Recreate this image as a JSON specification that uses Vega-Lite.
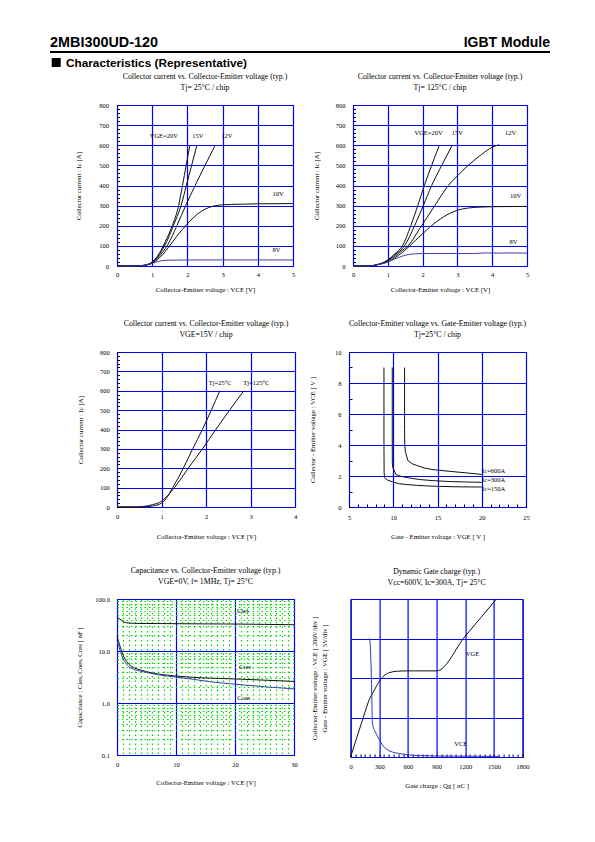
{
  "$schema": "https://vega.github.io/schema/vega-lite/v6.json",
  "background": "white",
  "padding": {"left": 49, "top": 34.5, "right": 5, "bottom": 5},
  "spacing": 1.5,
  "config": {
    "font": "Liberation Serif",
    "view": {"stroke": "#000", "strokeWidth": 1},
    "axis": {
      "labelFont": "Liberation Serif", "titleFont": "Liberation Serif",
      "labelFontSize": 6.5, "titleFontSize": 6.8, "titleFontWeight": "normal",
      "labelColor": "#000", "titleColor": "#000",
      "gridColor": "#0000ff", "gridWidth": 1.2, "gridOpacity": 1,
      "domain": false, "tickColor": "#000", "tickWidth": 1, "tickSize": 0,
      "labelOverlap": false, "labelFlush": false, "labelBound": false
    },
    "title": {"font": "Liberation Serif", "fontSize": 7.8, "fontWeight": "normal", "color": "#000", "lineHeight": 11.5, "offset": 10, "frame": "group", "anchor": "middle"},
    "text": {"font": "Liberation Serif", "fontSize": 6.5, "color": "#000"},
    "line": {"strokeWidth": 1}
  },
  "datasets": {
    "p1": [
      {"vge":"20V","vce":0,"ic":0},{"vge":"20V","vce":0.5,"ic":0},{"vge":"20V","vce":0.7,"ic":2},{"vge":"20V","vce":0.9,"ic":10},{"vge":"20V","vce":1.0,"ic":20},{"vge":"20V","vce":1.1,"ic":38},{"vge":"20V","vce":1.2,"ic":62},{"vge":"20V","vce":1.3,"ic":95},{"vge":"20V","vce":1.45,"ic":150},{"vge":"20V","vce":1.57,"ic":200},{"vge":"20V","vce":1.75,"ic":300},{"vge":"20V","vce":1.86,"ic":400},{"vge":"20V","vce":1.965,"ic":500},{"vge":"20V","vce":2.07,"ic":600},
      {"vge":"15V","vce":0,"ic":0},{"vge":"15V","vce":0.5,"ic":0},{"vge":"15V","vce":0.7,"ic":2},{"vge":"15V","vce":0.9,"ic":9},{"vge":"15V","vce":1.0,"ic":18},{"vge":"15V","vce":1.1,"ic":34},{"vge":"15V","vce":1.2,"ic":56},{"vge":"15V","vce":1.3,"ic":85},{"vge":"15V","vce":1.45,"ic":135},{"vge":"15V","vce":1.6,"ic":200},{"vge":"15V","vce":1.82,"ic":300},{"vge":"15V","vce":1.97,"ic":400},{"vge":"15V","vce":2.12,"ic":500},{"vge":"15V","vce":2.27,"ic":600},
      {"vge":"12V","vce":0,"ic":0},{"vge":"12V","vce":0.5,"ic":0},{"vge":"12V","vce":0.7,"ic":2},{"vge":"12V","vce":0.9,"ic":8},{"vge":"12V","vce":1.0,"ic":16},{"vge":"12V","vce":1.1,"ic":30},{"vge":"12V","vce":1.2,"ic":48},{"vge":"12V","vce":1.3,"ic":70},{"vge":"12V","vce":1.45,"ic":108},{"vge":"12V","vce":1.7,"ic":200},{"vge":"12V","vce":1.95,"ic":300},{"vge":"12V","vce":2.22,"ic":400},{"vge":"12V","vce":2.5,"ic":500},{"vge":"12V","vce":2.79,"ic":600},
      {"vge":"10V","vce":0,"ic":0},{"vge":"10V","vce":0.5,"ic":0},{"vge":"10V","vce":0.7,"ic":2},{"vge":"10V","vce":0.9,"ic":7},{"vge":"10V","vce":1.0,"ic":14},{"vge":"10V","vce":1.1,"ic":25},{"vge":"10V","vce":1.2,"ic":40},{"vge":"10V","vce":1.3,"ic":57},{"vge":"10V","vce":1.45,"ic":90},{"vge":"10V","vce":1.7,"ic":148},{"vge":"10V","vce":1.95,"ic":200},{"vge":"10V","vce":2.2,"ic":245},{"vge":"10V","vce":2.4,"ic":272},{"vge":"10V","vce":2.6,"ic":290},{"vge":"10V","vce":2.8,"ic":300},{"vge":"10V","vce":3.0,"ic":304},{"vge":"10V","vce":3.5,"ic":307},{"vge":"10V","vce":4.0,"ic":309},{"vge":"10V","vce":5.0,"ic":310},
      {"vge":"8V","vce":0,"ic":0},{"vge":"8V","vce":0.5,"ic":0},{"vge":"8V","vce":0.7,"ic":2},{"vge":"8V","vce":0.9,"ic":8},{"vge":"8V","vce":1.0,"ic":13},{"vge":"8V","vce":1.1,"ic":19},{"vge":"8V","vce":1.2,"ic":24},{"vge":"8V","vce":1.3,"ic":27},{"vge":"8V","vce":1.5,"ic":29},{"vge":"8V","vce":2.0,"ic":30},{"vge":"8V","vce":3.0,"ic":30},{"vge":"8V","vce":4.0,"ic":30},{"vge":"8V","vce":5.0,"ic":30}
    ],
    "p1lab": [
      {"t":"VGE=20V","vce":1.33,"ic":646},{"t":"15V","vce":2.3,"ic":646},{"t":"12V","vce":3.12,"ic":646},{"t":"10V","vce":4.58,"ic":358},{"t":"8V","vce":4.53,"ic":79}
    ],
    "p2": [
      {"vge":"20V","vce":0,"ic":0},{"vge":"20V","vce":0.4,"ic":0},{"vge":"20V","vce":0.6,"ic":3},{"vge":"20V","vce":0.8,"ic":12},{"vge":"20V","vce":1.0,"ic":30},{"vge":"20V","vce":1.2,"ic":60},{"vge":"20V","vce":1.42,"ic":100},{"vge":"20V","vce":1.66,"ic":200},{"vge":"20V","vce":1.86,"ic":300},{"vge":"20V","vce":2.05,"ic":400},{"vge":"20V","vce":2.26,"ic":500},{"vge":"20V","vce":2.48,"ic":600},
      {"vge":"15V","vce":0,"ic":0},{"vge":"15V","vce":0.4,"ic":0},{"vge":"15V","vce":0.6,"ic":3},{"vge":"15V","vce":0.8,"ic":12},{"vge":"15V","vce":1.0,"ic":28},{"vge":"15V","vce":1.2,"ic":55},{"vge":"15V","vce":1.48,"ic":100},{"vge":"15V","vce":1.77,"ic":200},{"vge":"15V","vce":2.02,"ic":300},{"vge":"15V","vce":2.26,"ic":400},{"vge":"15V","vce":2.55,"ic":500},{"vge":"15V","vce":2.85,"ic":600},
      {"vge":"12V","vce":0,"ic":0},{"vge":"12V","vce":0.4,"ic":0},{"vge":"12V","vce":0.6,"ic":3},{"vge":"12V","vce":0.8,"ic":11},{"vge":"12V","vce":1.0,"ic":25},{"vge":"12V","vce":1.2,"ic":48},{"vge":"12V","vce":1.4,"ic":75},{"vge":"12V","vce":1.58,"ic":100},{"vge":"12V","vce":1.97,"ic":200},{"vge":"12V","vce":2.35,"ic":300},{"vge":"12V","vce":2.74,"ic":400},{"vge":"12V","vce":3.0,"ic":448},{"vge":"12V","vce":3.31,"ic":500},{"vge":"12V","vce":3.7,"ic":555},{"vge":"12V","vce":4.0,"ic":590},{"vge":"12V","vce":4.2,"ic":603},
      {"vge":"10V","vce":0,"ic":0},{"vge":"10V","vce":0.4,"ic":0},{"vge":"10V","vce":0.6,"ic":3},{"vge":"10V","vce":0.8,"ic":10},{"vge":"10V","vce":1.0,"ic":20},{"vge":"10V","vce":1.2,"ic":40},{"vge":"10V","vce":1.4,"ic":65},{"vge":"10V","vce":1.6,"ic":95},{"vge":"10V","vce":1.8,"ic":128},{"vge":"10V","vce":2.0,"ic":160},{"vge":"10V","vce":2.2,"ic":192},{"vge":"10V","vce":2.4,"ic":220},{"vge":"10V","vce":2.6,"ic":244},{"vge":"10V","vce":2.8,"ic":263},{"vge":"10V","vce":3.0,"ic":277},{"vge":"10V","vce":3.3,"ic":288},{"vge":"10V","vce":3.7,"ic":293},{"vge":"10V","vce":4.2,"ic":295},{"vge":"10V","vce":5.0,"ic":296},
      {"vge":"8V","vce":0,"ic":0},{"vge":"8V","vce":0.4,"ic":0},{"vge":"8V","vce":0.6,"ic":3},{"vge":"8V","vce":0.8,"ic":10},{"vge":"8V","vce":1.0,"ic":20},{"vge":"8V","vce":1.2,"ic":35},{"vge":"8V","vce":1.4,"ic":48},{"vge":"8V","vce":1.6,"ic":57},{"vge":"8V","vce":1.8,"ic":61},{"vge":"8V","vce":2.0,"ic":62},{"vge":"8V","vce":2.5,"ic":62},{"vge":"8V","vce":3.0,"ic":62},{"vge":"8V","vce":3.5,"ic":62},{"vge":"8V","vce":3.8,"ic":65},{"vge":"8V","vce":4.2,"ic":64},{"vge":"8V","vce":4.5,"ic":65},{"vge":"8V","vce":5.0,"ic":64}
    ],
    "p2lab": [
      {"t":"VGE=20V","vce":2.17,"ic":661},{"t":"15V","vce":3.0,"ic":661},{"t":"12V","vce":4.53,"ic":661},{"t":"10V","vce":4.67,"ic":348},{"t":"8V","vce":4.61,"ic":120}
    ],
    "p3": [
      {"tj":"Tj=25°C","vce":0,"ic":0},{"tj":"Tj=25°C","vce":0.45,"ic":0},{"tj":"Tj=25°C","vce":0.6,"ic":1},{"tj":"Tj=25°C","vce":0.8,"ic":5},{"tj":"Tj=25°C","vce":0.9,"ic":10},{"tj":"Tj=25°C","vce":1.0,"ic":20},{"tj":"Tj=25°C","vce":1.1,"ic":42},{"tj":"Tj=25°C","vce":1.25,"ic":100},{"tj":"Tj=25°C","vce":1.4,"ic":160},{"tj":"Tj=25°C","vce":1.49,"ic":200},{"tj":"Tj=25°C","vce":1.7,"ic":300},{"tj":"Tj=25°C","vce":1.92,"ic":400},{"tj":"Tj=25°C","vce":2.12,"ic":500},{"tj":"Tj=25°C","vce":2.31,"ic":600},
      {"tj":"Tj=125°C","vce":0,"ic":0},{"tj":"Tj=125°C","vce":0.4,"ic":0},{"tj":"Tj=125°C","vce":0.6,"ic":3},{"tj":"Tj=125°C","vce":0.8,"ic":12},{"tj":"Tj=125°C","vce":1.0,"ic":30},{"tj":"Tj=125°C","vce":1.1,"ic":50},{"tj":"Tj=125°C","vce":1.29,"ic":100},{"tj":"Tj=125°C","vce":1.45,"ic":150},{"tj":"Tj=125°C","vce":1.6,"ic":200},{"tj":"Tj=125°C","vce":1.92,"ic":300},{"tj":"Tj=125°C","vce":2.22,"ic":400},{"tj":"Tj=125°C","vce":2.53,"ic":500},{"tj":"Tj=125°C","vce":2.85,"ic":600}
    ],
    "p3lab": [
      {"t":"Tj=25°C","vce":2.32,"ic":641},{"t":"Tj=125°C","vce":3.13,"ic":641}
    ],
    "p4": [
      {"ic":"600A","vge":11.28,"vce":9},{"ic":"600A","vge":11.28,"vce":5},{"ic":"600A","vge":11.3,"vce":4},{"ic":"600A","vge":11.36,"vce":3.6},{"ic":"600A","vge":11.65,"vce":3.0},{"ic":"600A","vge":12.1,"vce":2.8},{"ic":"600A","vge":12.6,"vce":2.69},{"ic":"600A","vge":13.5,"vce":2.52},{"ic":"600A","vge":14.5,"vce":2.41},{"ic":"600A","vge":16.4,"vce":2.3},{"ic":"600A","vge":18.3,"vce":2.2},{"ic":"600A","vge":20,"vce":2.1},
      {"ic":"300A","vge":9.89,"vce":9},{"ic":"300A","vge":9.89,"vce":4},{"ic":"300A","vge":9.9,"vce":2.8},{"ic":"300A","vge":9.95,"vce":2.55},{"ic":"300A","vge":10.3,"vce":2.1},{"ic":"300A","vge":10.9,"vce":1.97},{"ic":"300A","vge":11.84,"vce":1.87},{"ic":"300A","vge":13.0,"vce":1.77},{"ic":"300A","vge":14.5,"vce":1.7},{"ic":"300A","vge":16.5,"vce":1.64},{"ic":"300A","vge":18.5,"vce":1.61},{"ic":"300A","vge":20,"vce":1.59},
      {"ic":"150A","vge":8.95,"vce":9},{"ic":"150A","vge":8.95,"vce":4},{"ic":"150A","vge":8.97,"vce":2.2},{"ic":"150A","vge":9.02,"vce":1.9},{"ic":"150A","vge":9.3,"vce":1.75},{"ic":"150A","vge":10.0,"vce":1.6},{"ic":"150A","vge":10.7,"vce":1.5},{"ic":"150A","vge":11.5,"vce":1.45},{"ic":"150A","vge":12.6,"vce":1.4},{"ic":"150A","vge":13.8,"vce":1.36},{"ic":"150A","vge":15.2,"vce":1.33},{"ic":"150A","vge":17.5,"vce":1.3},{"ic":"150A","vge":20,"vce":1.29}
    ],
    "p4lab": [
      {"t":"Ic=600A","vge":20.04,"vce":2.34},{"t":"Ic=300A","vge":20.04,"vce":1.73},{"t":"Ic=150A","vge":20.04,"vce":1.13}
    ],
    "p5": [
      {"c":"Cies","vce":0,"cap":44},{"c":"Cies","vce":0.5,"cap":41},{"c":"Cies","vce":1.0,"cap":37},{"c":"Cies","vce":1.5,"cap":35},{"c":"Cies","vce":2,"cap":34.5},{"c":"Cies","vce":3,"cap":34},{"c":"Cies","vce":5,"cap":33.8},{"c":"Cies","vce":10,"cap":33.5},{"c":"Cies","vce":15,"cap":33.2},{"c":"Cies","vce":20,"cap":33},{"c":"Cies","vce":25,"cap":32.5},{"c":"Cies","vce":30,"cap":32},
      {"c":"Cres","vce":0,"cap":19},{"c":"Cres","vce":0.3,"cap":15},{"c":"Cres","vce":0.6,"cap":11.5},{"c":"Cres","vce":1.0,"cap":8.5},{"c":"Cres","vce":1.5,"cap":6.6},{"c":"Cres","vce":2,"cap":5.6},{"c":"Cres","vce":3,"cap":4.7},{"c":"Cres","vce":4,"cap":4.3},{"c":"Cres","vce":5,"cap":4.0},{"c":"Cres","vce":7,"cap":3.6},{"c":"Cres","vce":10,"cap":3.3},{"c":"Cres","vce":13,"cap":3.1},{"c":"Cres","vce":16,"cap":3.0},{"c":"Cres","vce":20,"cap":2.9},{"c":"Cres","vce":25,"cap":2.75},{"c":"Cres","vce":30,"cap":2.6},
      {"c":"Coes","vce":0,"cap":16},{"c":"Coes","vce":0.3,"cap":12.5},{"c":"Coes","vce":0.6,"cap":9.5},{"c":"Coes","vce":1.0,"cap":7.2},{"c":"Coes","vce":1.5,"cap":5.8},{"c":"Coes","vce":2,"cap":5.0},{"c":"Coes","vce":3,"cap":4.4},{"c":"Coes","vce":4,"cap":4.1},{"c":"Coes","vce":5,"cap":3.85},{"c":"Coes","vce":7,"cap":3.5},{"c":"Coes","vce":10,"cap":3.15},{"c":"Coes","vce":13,"cap":2.85},{"c":"Coes","vce":16,"cap":2.55},{"c":"Coes","vce":20,"cap":2.3},{"c":"Coes","vce":25,"cap":2.05},{"c":"Coes","vce":30,"cap":1.87}
    ],
    "p5lab": [
      {"t":"Cies","vce":21.3,"cap":59.6},{"t":"Cres","vce":21.7,"cap":4.86},{"t":"Coes","vce":21.5,"cap":1.23}
    ],
    "p6vge": [
      {"qg":0,"vge":0},{"qg":133,"vge":5},{"qg":200,"vge":7.4},{"qg":237,"vge":8.2},{"qg":272,"vge":9.0},{"qg":314,"vge":9.8},{"qg":360,"vge":10.4},{"qg":412,"vge":10.7},{"qg":480,"vge":10.85},{"qg":600,"vge":10.9},{"qg":900,"vge":10.9},{"qg":1200,"vge":15.3},{"qg":1527,"vge":20}
    ],
    "p6vce": [
      {"qg":195,"vce":600},{"qg":205,"vce":575},{"qg":210,"vce":520},{"qg":216,"vce":430},{"qg":220,"vce":350},{"qg":224,"vce":260},{"qg":227,"vce":185},{"qg":235,"vce":155},{"qg":255,"vce":131},{"qg":290,"vce":97},{"qg":342,"vce":56},{"qg":412,"vce":30},{"qg":516,"vce":17},{"qg":621,"vce":10},{"qg":750,"vce":7},{"qg":900,"vce":5},{"qg":1200,"vce":4},{"qg":1553,"vce":3}
    ]
  },
  "vconcat": [
    {
      "width": 433, "height": 30,
      "view": {"stroke": null},
      "layer": [
        {"data": {"values": [{"t": "2MBI300UD-120"}]},
         "mark": {"type": "text", "align": "left", "baseline": "alphabetic", "font": "Liberation Sans", "fontSize": 14.4, "fontWeight": "bold", "color": "#000"},
         "encoding": {"x": {"datum": -0.1547, "type": "quantitative", "scale": {"domain": [0, 1]}, "axis": null},
                      "y": {"datum": 0.69, "type": "quantitative", "scale": {"domain": [0, 1]}, "axis": null},
                      "text": {"field": "t", "type": "nominal"}}},
        {"data": {"values": [{"t": "IGBT Module"}]},
         "mark": {"type": "text", "align": "right", "baseline": "alphabetic", "font": "Liberation Sans", "fontSize": 14, "fontWeight": "bold", "color": "#000"},
         "encoding": {"x": {"datum": 1, "type": "quantitative", "scale": {"domain": [0, 1]}, "axis": null},
                      "y": {"datum": 0.69, "type": "quantitative", "scale": {"domain": [0, 1]}, "axis": null},
                      "text": {"field": "t", "type": "nominal"}}},
        {"data": {"values": [{"t": "rule"}]},
         "mark": {"type": "rule", "strokeWidth": 2, "color": "#000"},
         "encoding": {"x": {"datum": -0.1547, "type": "quantitative", "scale": {"domain": [0, 1]}, "axis": null},
                      "x2": {"datum": 1},
                      "y": {"datum": 0.517, "type": "quantitative", "scale": {"domain": [0, 1]}, "axis": null}}},
        {"data": {"values": [{"t": "square"}]},
         "mark": {"type": "point", "shape": "square", "filled": true, "size": 81, "color": "#000", "opacity": 1},
         "encoding": {"x": {"datum": -0.1404, "type": "quantitative", "scale": {"domain": [0, 1]}, "axis": null},
                      "y": {"datum": 0.167, "type": "quantitative", "scale": {"domain": [0, 1]}, "axis": null}}},
        {"data": {"values": [{"t": "Characteristics (Representative)"}]},
         "mark": {"type": "text", "align": "left", "baseline": "alphabetic", "font": "Liberation Sans", "fontSize": 11.8, "fontWeight": "bold", "color": "#000"},
         "encoding": {"x": {"datum": -0.1178, "type": "quantitative", "scale": {"domain": [0, 1]}, "axis": null},
                      "y": {"datum": 0.02, "type": "quantitative", "scale": {"domain": [0, 1]}, "axis": null},
                      "text": {"field": "t", "type": "nominal"}}}
      ]
    },
    {
      "spacing": 25,
      "vconcat": [
        {
          "spacing": 17,
          "hconcat": [
            {
              "width": 176, "height": 161,
              "title": {"text": ["Collector current vs. Collector-Emitter voltage (typ.)", "Tj= 25°C / chip"]},
              "encoding": {
                "x": {"field": "vce", "type": "quantitative", "scale": {"domain": [0, 5], "nice": false},
                      "axis": {"title": "Collector-Emitter voltage : VCE [V]", "values": [0, 1, 2, 3, 4, 5], "format": "d", "tickSize": 0, "labelPadding": 5.7, "minExtent": 12, "maxExtent": 12, "titlePadding": 8.6}},
                "y": {"field": "ic", "type": "quantitative", "scale": {"domain": [0, 800], "nice": false},
                      "axis": {"title": "Collector current : Ic [A]", "values": [0,20,40,60,80,100,120,140,160,180,200,220,240,260,280,300,320,340,360,380,400,420,440,460,480,500,520,540,560,580,600,620,640,660,680,700,720,740,760,780,800],
                               "labelExpr": "datum.value % 100 === 0 ? datum.label : ''",
                               "gridOpacity": {"condition": {"test": "datum.value % 100 === 0", "value": 1}, "value": 0},
                               "tickSize": -2.5, "labelPadding": 11, "minExtent": 26, "maxExtent": 26, "titlePadding": 9.1}}
              },
              "layer": [
                {"data": {"name": "p1"}, "mark": {"type": "line", "interpolate": "monotone", "strokeWidth": 1},
                 "encoding": {"color": {"field": "vge", "type": "nominal", "scale": {"domain": ["20V", "15V", "12V", "10V", "8V"], "range": ["#111111", "#111111", "#111111", "#111111", "#3c3cb4"]}, "legend": null}}},
                {"data": {"name": "p1lab"}, "mark": {"type": "text", "align": "center", "baseline": "middle"},
                 "encoding": {"text": {"field": "t", "type": "nominal"}}}
              ]
            },
            {
              "width": 174, "height": 161,
              "title": {"text": ["Collector current vs. Collector-Emitter voltage (typ.)", "Tj= 125°C / chip"]},
              "encoding": {
                "x": {"field": "vce", "type": "quantitative", "scale": {"domain": [0, 5], "nice": false},
                      "axis": {"title": "Collector-Emitter voltage : VCE [V]", "values": [0, 1, 2, 3, 4, 5], "format": "d", "tickSize": 0, "labelPadding": 5.7, "minExtent": 12, "maxExtent": 12, "titlePadding": 8.3}},
                "y": {"field": "ic", "type": "quantitative", "scale": {"domain": [0, 800], "nice": false},
                      "axis": {"title": "Collector current : Ic [A]", "values": [0,20,40,60,80,100,120,140,160,180,200,220,240,260,280,300,320,340,360,380,400,420,440,460,480,500,520,540,560,580,600,620,640,660,680,700,720,740,760,780,800],
                               "labelExpr": "datum.value % 100 === 0 ? datum.label : ''",
                               "gridOpacity": {"condition": {"test": "datum.value % 100 === 0", "value": 1}, "value": 0},
                               "tickSize": -2.5, "labelPadding": 10.5, "minExtent": 26, "maxExtent": 26, "titlePadding": 7.3}}
              },
              "layer": [
                {"data": {"name": "p2"}, "mark": {"type": "line", "interpolate": "monotone", "strokeWidth": 1},
                 "encoding": {"color": {"field": "vge", "type": "nominal", "scale": {"domain": ["20V", "15V", "12V", "10V", "8V"], "range": ["#111111", "#111111", "#111111", "#111111", "#3c3cb4"]}, "legend": null}}},
                {"data": {"name": "p2lab"}, "mark": {"type": "text", "align": "center", "baseline": "middle"},
                 "encoding": {"text": {"field": "t", "type": "nominal"}}}
              ]
            }
          ]
        },
        {
          "spacing": 11,
          "hconcat": [
            {
              "width": 178, "height": 155,
              "title": {"text": ["Collector current vs. Collector-Emitter voltage (typ.)", "VGE=15V / chip"]},
              "encoding": {
                "x": {"field": "vce", "type": "quantitative", "scale": {"domain": [0, 4], "nice": false},
                      "axis": {"title": "Collector-Emitter voltage : VCE [V]", "values": [0, 1, 2, 3, 4], "format": "d", "tickSize": 0, "labelPadding": 6.3, "minExtent": 12, "maxExtent": 12, "titlePadding": 14}},
                "y": {"field": "ic", "type": "quantitative", "scale": {"domain": [0, 800], "nice": false},
                      "axis": {"title": "Collector current : Ic [A]", "values": [0,20,40,60,80,100,120,140,160,180,200,220,240,260,280,300,320,340,360,380,400,420,440,460,480,500,520,540,560,580,600,620,640,660,680,700,720,740,760,780,800],
                               "labelExpr": "datum.value % 100 === 0 ? datum.label : ''",
                               "gridOpacity": {"condition": {"test": "datum.value % 100 === 0", "value": 1}, "value": 0},
                               "tickSize": -2.5, "labelPadding": 10.2, "minExtent": 26, "maxExtent": 26, "titlePadding": 7.7}}
              },
              "layer": [
                {"data": {"name": "p3"}, "mark": {"type": "line", "interpolate": "monotone", "strokeWidth": 1},
                 "encoding": {"color": {"field": "tj", "type": "nominal", "scale": {"domain": ["Tj=25°C", "Tj=125°C"], "range": ["#111111", "#111111"]}, "legend": null}}},
                {"data": {"name": "p3lab"}, "mark": {"type": "text", "align": "center", "baseline": "middle"},
                 "encoding": {"text": {"field": "t", "type": "nominal"}}}
              ]
            },
            {
              "width": 177, "height": 155,
              "title": {"text": ["Collector-Emitter voltage  vs. Gate-Emitter voltage (typ.)", "Tj=25°C / chip"]},
              "encoding": {
                "x": {"field": "vge", "type": "quantitative", "scale": {"domain": [5, 25], "nice": false},
                      "axis": {"title": "Gate - Emitter voltage  :  VGE  [ V ]", "values": [5,6,7,8,9,10,11,12,13,14,15,16,17,18,19,20,21,22,23,24,25], "format": "d",
                               "labelExpr": "datum.value % 5 === 0 ? datum.label : ''",
                               "gridOpacity": {"condition": {"test": "datum.value % 5 === 0", "value": 1}, "value": 0},
                               "tickSize": -3, "labelPadding": 10, "minExtent": 12, "maxExtent": 12, "titlePadding": 14}},
                "y": {"field": "vce", "type": "quantitative", "scale": {"domain": [0, 10], "nice": false},
                      "axis": {"title": "Collector - Emitter voltage  :  VCE  [ V ]", "values": [0,0.5,1,1.5,2,2.5,3,3.5,4,4.5,5,5.5,6,6.5,7,7.5,8,8.5,9,9.5,10], "format": "d",
                               "labelExpr": "datum.value % 2 === 0 ? datum.label : ''",
                               "gridOpacity": {"condition": {"test": "datum.value % 2 === 0", "value": 1}, "value": 0},
                               "tickSize": -3, "labelPadding": 11, "minExtent": 26, "maxExtent": 26, "titlePadding": 7.3}}
              },
              "layer": [
                {"data": {"name": "p4"}, "mark": {"type": "line", "interpolate": "linear", "strokeWidth": 1, "color": "#111111"},
                 "encoding": {"detail": {"field": "ic", "type": "nominal"}, "order": {"field": "vce", "sort": "descending"}}},
                {"data": {"name": "p4lab"}, "mark": {"type": "text", "align": "left", "baseline": "middle"},
                 "encoding": {"text": {"field": "t", "type": "nominal"}}}
              ]
            }
          ]
        },
        {
          "spacing": 12.6,
          "hconcat": [
            {
              "width": 177, "height": 156,
              "title": {"text": ["Capacitance  vs.  Collector-Emitter voltage  (typ.)", "VGE=0V,  f= 1MHz,  Tj= 25°C"]},
              "encoding": {
                "x": {"field": "vce", "type": "quantitative", "scale": {"domain": [0, 30], "nice": false},
                      "axis": {"title": "Collector-Emitter voltage : VCE [V]", "values": [0,1,2,3,4,5,6,7,8,9,10,11,12,13,14,15,16,17,18,19,20,21,22,23,24,25,26,27,28,29,30], "format": "d",
                               "labelExpr": "datum.value % 10 === 0 ? datum.label : ''",
                               "gridColor": {"condition": {"test": "datum.value % 10 === 0", "value": "#0000ff"}, "value": "#00dd00"},
                               "gridDash": {"condition": {"test": "datum.value % 10 === 0", "value": []}, "value": [1.5, 3]},
                               "tickSize": 0, "labelPadding": 6, "minExtent": 12, "maxExtent": 12, "titlePadding": 12}},
                "y": {"field": "cap", "type": "quantitative", "scale": {"type": "log", "domain": [0.1, 100], "nice": false},
                      "axis": {"title": "Capacitance  :  Cies, Coes, Cres  [ nF ]", "values": [0.1,0.2,0.3,0.4,0.5,0.6,0.7,0.8,0.9,1,2,3,4,5,6,7,8,9,10,20,30,40,50,60,70,80,90,100], "format": ".1f",
                               "labelExpr": "indexof([0.1, 1, 10, 100], datum.value) >= 0 ? datum.label : ''",
                               "gridColor": {"condition": {"test": "indexof([0.1, 1, 10, 100], datum.value) >= 0", "value": "#0000ff"}, "value": "#00dd00"},
                               "gridDash": {"condition": {"test": "indexof([0.1, 1, 10, 100], datum.value) >= 0", "value": []}, "value": [1.5, 3]},
                               "tickSize": 0, "labelPadding": 7.6, "minExtent": 26, "maxExtent": 26, "titlePadding": 8.3}}
              },
              "layer": [
                {"data": {"name": "p5"}, "mark": {"type": "line", "interpolate": "monotone", "strokeWidth": 1},
                 "encoding": {"color": {"field": "c", "type": "nominal", "scale": {"domain": ["Cies", "Cres", "Coes"], "range": ["#5a5ab0", "#111111", "#111111"]}, "legend": null}}},
                {"data": {"name": "p5lab"}, "mark": {"type": "text", "align": "center", "baseline": "middle"},
                 "encoding": {"text": {"field": "t", "type": "nominal"}}}
              ]
            },
            {
              "width": 172, "height": 158,
              "title": {"text": ["Dynamic Gate charge  (typ.)", "Vcc=600V, Ic=300A, Tj= 25°C"]},
              "encoding": {
                "x": {"field": "qg", "type": "quantitative", "scale": {"domain": [0, 1800], "nice": false},
                      "axis": {"title": "Gate charge  :  Qg  [ nC ]", "values": [0,50,100,150,200,250,300,350,400,450,500,550,600,650,700,750,800,850,900,950,1000,1050,1100,1150,1200,1250,1300,1350,1400,1450,1500,1550,1600,1650,1700,1750,1800], "format": "d",
                               "labelExpr": "datum.value % 300 === 0 ? datum.label : ''",
                               "gridOpacity": {"condition": {"test": "datum.value % 300 === 0", "value": 1}, "value": 0},
                               "tickSize": -3, "labelPadding": 9, "minExtent": 12, "maxExtent": 12, "titlePadding": 13}}
              },
              "layer": [
                {"data": {"name": "p6vge"}, "mark": {"type": "line", "interpolate": "monotone", "strokeWidth": 1, "color": "#111111"},
                 "encoding": {"y": {"field": "vge", "type": "quantitative", "scale": {"domain": [0, 20], "nice": false},
                                    "axis": {"title": ["Collector-Emitter voltage : VCE [ 200V/div ]", "Gate - Emitter voltage : VGE        [ 5V/div ]"], "titleLineHeight": 10, "values": [0, 5, 10, 15, 20], "labels": false, "ticks": false, "minExtent": 0, "maxExtent": 0, "titlePadding": 22.9}}}},
                {"data": {"values": [{"t": "VGE", "qg": 1275, "vge": 13.1}]}, "mark": {"type": "text", "align": "center", "baseline": "middle"},
                 "encoding": {"y": {"field": "vge", "type": "quantitative", "scale": {"domain": [0, 20], "nice": false}, "axis": null}, "text": {"field": "t", "type": "nominal"}}},
                {"data": {"name": "p6vce"}, "mark": {"type": "line", "interpolate": "monotone", "strokeWidth": 1, "color": "#3535b8"},
                 "encoding": {"y": {"field": "vce", "type": "quantitative", "scale": {"domain": [0, 800], "nice": false}, "axis": null}}},
                {"data": {"values": [{"t": "VCE", "qg": 1153, "vce": 64}]}, "mark": {"type": "text", "align": "center", "baseline": "middle"},
                 "encoding": {"y": {"field": "vce", "type": "quantitative", "scale": {"domain": [0, 800], "nice": false}, "axis": null}, "text": {"field": "t", "type": "nominal"}}}
              ],
              "resolve": {"scale": {"y": "independent"}, "axis": {"y": "independent"}}
            }
          ]
        }
      ]
    }
  ]
}
